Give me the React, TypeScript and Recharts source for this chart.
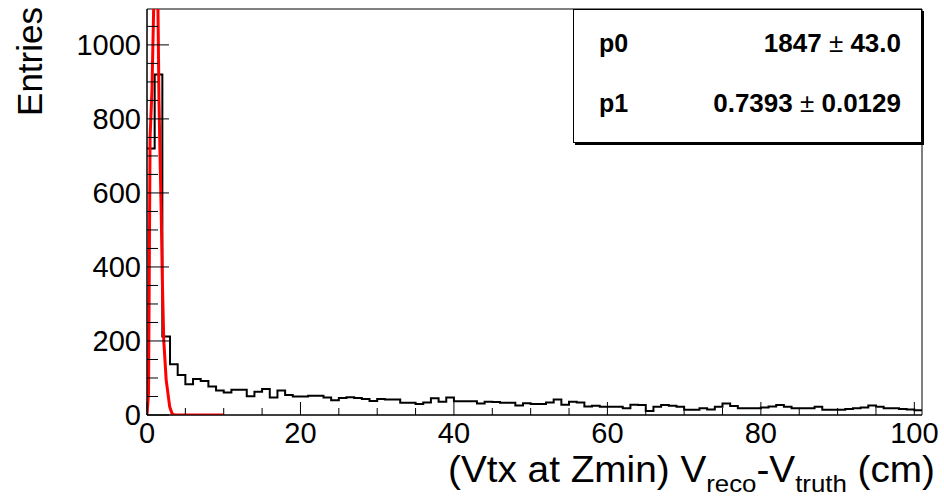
import { ComposedChart, Line, XAxis, YAxis, ReferenceArea } from "recharts";

// histogram: 101 bins of width 1 cm starting at 0
const entries = [
  720, 920, 212, 137, 108, 83, 97, 92, 77, 66,
  61, 68, 68, 51, 63, 70, 47, 66, 54, 50,
  50, 52, 52, 47, 40, 46, 48, 46, 43, 38,
  43, 42, 42, 33, 33, 30, 34, 45, 36, 47,
  37, 37, 37, 31, 36, 35, 33, 33, 26, 32,
  30, 30, 34, 42, 28, 36, 34, 23, 25, 22,
  22, 22, 18, 28, 27, 11, 22, 27, 25, 22,
  14, 14, 18, 15, 22, 31, 24, 18, 18, 18,
  20, 23, 27, 22, 18, 18, 18, 22, 14, 14,
  14, 16, 18, 20, 26, 22, 18, 18, 16, 15,
  13,
];

// fit curve (goes above the frame near the peak)
const fitX = [0, 0.15, 0.2, 0.3, 0.4, 0.65, 0.87, 1.1, 1.3, 1.43, 1.56, 1.7, 1.85, 2.0, 2.18, 2.5, 2.96, 3.3, 3.6, 10];
const fitY = [0, 45, 60, 400, 750, 880, 1100, 1350, 1250, 1100, 851, 700, 550, 365, 203, 95, 22, 2, 0, 0];

const xTicks = [0, 5, 10, 15, 20, 25, 30, 35, 40, 45, 50, 55, 60, 65, 70, 75, 80, 85, 90, 95, 100];
const yTicks = [0, 50, 100, 150, 200, 250, 300, 350, 400, 450, 500, 550, 600, 650, 700, 750, 800, 850, 900, 950, 1000, 1050];
const xLabels = [0, 20, 40, 60, 80, 100];
const yLabels = [0, 200, 400, 600, 800, 1000];

const params = [
  { name: "p0", value: "1847", error: "43.0" },
  { name: "p1", value: "0.7393", error: "0.0129" },
];

const histData = entries
  .map((v, i) => ({ x: i, count: v }))
  .concat([{ x: entries.length, count: entries[entries.length - 1] }]);
const fitData = fitX.map((x, i) => ({ x, fit: fitY[i] }));

const FONT = "'Liberation Sans', Arial, Helvetica, sans-serif";

function XTick(props: any) {
  const { x, y, payload } = props;
  const major = xLabels.includes(payload.value);
  return (
    <g>
      <line x1={x} x2={x} y1={y} y2={y - (major ? 13 : 7)} stroke="#000" strokeWidth={1} />
      {major && (
        <text x={x} y={y + 28} textAnchor="middle" fontSize={29} fontFamily={FONT} fill="#000">
          {payload.value}
        </text>
      )}
    </g>
  );
}

function YTick(props: any) {
  const { x, y, payload } = props;
  const major = yLabels.includes(payload.value);
  return (
    <g>
      <line x1={x} x2={x + (major ? 22 : 11)} y1={y} y2={y} stroke="#000" strokeWidth={1} />
      {major && (
        <text x={x - 6} y={y + 10} textAnchor="end" fontSize={29} fontFamily={FONT} fill="#000">
          {payload.value}
        </text>
      )}
    </g>
  );
}

export default function App() {
  return (
    <div style={{ position: "absolute", left: 0, top: 0, width: 944, height: 498, background: "#fff" }}>
      <ComposedChart
        width={944}
        height={498}
        data={histData}
        margin={{ top: 9, right: 22, bottom: 0, left: 7 }}
      >
        <XAxis
          dataKey="x"
          type="number"
          domain={[0, 101]}
          allowDataOverflow
          ticks={xTicks}
          interval={0}
          tickSize={0}
          tickMargin={0}
          tickLine={false}
          axisLine={{ stroke: "#000" }}
          tick={<XTick />}
          height={83}
        />
        <YAxis
          type="number"
          domain={[0, 1097]}
          allowDataOverflow
          ticks={yTicks}
          interval={0}
          tickSize={0}
          tickMargin={0}
          tickLine={false}
          axisLine={{ stroke: "#000" }}
          tick={<YTick />}
          width={140}
        />
        <ReferenceArea x1={0} x2={101} y1={0} y2={1097} fill="none" stroke="#000" strokeWidth={1} />
        <Line
          dataKey="count"
          type="stepAfter"
          stroke="#000"
          strokeWidth={2}
          dot={false}
          activeDot={false}
          isAnimationActive={false}
        />
        <Line
          data={fitData}
          dataKey="fit"
          type="linear"
          stroke="#ff0000"
          strokeWidth={3}
          dot={false}
          activeDot={false}
          isAnimationActive={false}
        />
      </ComposedChart>
      <svg
        width={944}
        height={498}
        style={{ position: "absolute", left: 0, top: 0, pointerEvents: "none" }}
        fontFamily={FONT}
      >
        <text transform="translate(42,7) rotate(-90)" textAnchor="end" fontSize={35} fill="#000">
          Entries
        </text>
        <text
          x={448}
          y={482}
          fontSize={36}
          fill="#000"
          textLength={487}
          lengthAdjust="spacingAndGlyphs"
        >
          (Vtx at Zmin) V
          <tspan fontSize={24} dy={10}>reco</tspan>
          <tspan dy={-10}>-V</tspan>
          <tspan fontSize={24} dy={10}>truth</tspan>
          <tspan dy={-10}> (cm)</tspan>
        </text>
        <rect x={575} y={11} width={349} height={134} fill="#000" />
        <rect x={573.5} y={9.5} width={348} height={133} fill="#fff" stroke="#000" strokeWidth={1} />
        {params.map((p, i) => (
          <g key={p.name}>
            <text x={599} y={52 + i * 60} fontSize={25} fontWeight="bold" fill="#000">
              {p.name}
            </text>
            <text x={901} y={52 + i * 60} textAnchor="end" fontSize={26} fontWeight="bold" fill="#000">
              {p.value}
              <tspan fontWeight="normal">{" \u00b1 "}</tspan>
              {p.error}
            </text>
          </g>
        ))}
      </svg>
    </div>
  );
}
